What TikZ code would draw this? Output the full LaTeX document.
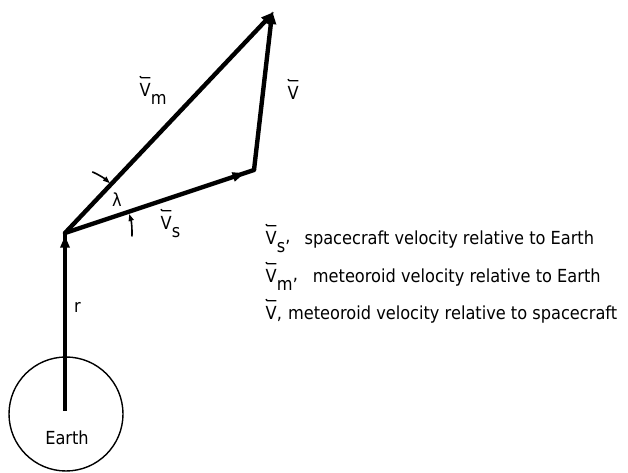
\documentclass[tikz,border=0pt]{standalone}
\usepackage{fontspec}
\newfontfamily\lf[FakeStretch=0.9]{DejaVu Sans}
\usetikzlibrary{arrows.meta,decorations.markings,calc}
\newcommand\ov[1]{\tikz[x=1pt,y=1pt,baseline=0pt]{\node[inner sep=0pt,outer sep=0pt,anchor=base west] (ovt) at (0,0) {#1};\draw[line width=1.4pt,line join=miter] ([xshift=0.2pt,yshift=7.6pt]ovt.north west) -- ++(1.6,-1.5) -- ([xshift=-0.5pt,yshift=6.1pt]ovt.north east);}}
\newcommand\sub[1]{\raisebox{-8pt}{#1}}
\tikzset{
  thick vec/.style={line width=4.4pt},
  tip/.style={-{Triangle[length=13pt,width=10pt]}},
  midtip/.style={postaction={decorate},decoration={markings,mark=at position #1 with {\arrow{Triangle[length=12pt,width=9pt]}}}},
  anglemark/.style={line width=1.6pt,-{Triangle[length=7pt,width=5pt]}},
  lbl/.style={inner sep=0pt,anchor=base west,font=\lf\fontsize{18}{20}\selectfont},
}
\begin{document}
\begin{tikzpicture}[x=1pt,y=1pt]
\useasboundingbox (0,0) rectangle (628,473);
\coordinate (O) at (65,240);
\coordinate (A) at (272,459);
\coordinate (B) at (254,303);
\coordinate (Ctr) at (66,59);
\coordinate (R0) at (65,62);
% Earth
\draw[line width=1.4pt] (Ctr) circle[radius=57];
\node[lbl,anchor=base] (earth) at (67,28) {Earth};
% r
\draw[thick vec,midtip=0.985] (R0) -- (O);
\node[lbl] (rl) at (74,160) {r};
% Vs
\draw[thick vec,line cap=round,midtip=0.95] (O) -- (B);
% V
\draw[thick vec,tip,shorten >=-3pt] (B) -- (A);
% Vm
\draw[thick vec,tip,shorten >=-3pt] (O) -- (A);
% angle marks
\draw[anglemark] ($(O)+(66:67)$) arc[start angle=66,end angle=48,radius=67];
\draw[anglemark] ($(O)+(-3:67)$) arc[start angle=-3,end angle=16.5,radius=67];
\node[lbl,font=\lf\fontsize{18}{20}\selectfont] (lam) at (112,266) {λ};
% vector labels
\node[lbl] (vm) at (139,376) {\ov{V}\sub{m}};
\node[lbl] (vv) at (287,373) {\ov{V}};
\node[lbl] (vs) at (160,243) {\ov{V}\sub{s}};
% legend
\node[lbl] (l1) at (265,228) {\ov{V}\sub{s}\raisebox{2pt}{,}\hspace{14pt}spacecraft velocity relative to Earth};
\node[lbl] (l2) at (265,190) {\ov{V}\sub{m}\raisebox{2pt}{,}\hspace{15pt}meteoroid velocity relative to Earth};
\node[lbl] (l3) at (265,153) {\ov{V},\hspace{6pt}meteoroid velocity relative to spacecraft};
\end{tikzpicture}
\end{document}
